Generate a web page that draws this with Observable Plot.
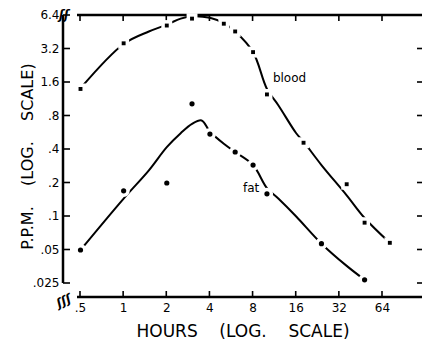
<!DOCTYPE html>
<html><head><meta charset="utf-8">
<script src="https://cdn.jsdelivr.net/npm/d3@7"></script>
<script src="https://cdn.jsdelivr.net/npm/@observablehq/plot@0.6"></script>
<style>body{margin:0;background:#fff} svg text{white-space:pre}</style>
</head><body><div id="chart"></div>
<script>
const xTicks = [0.5, 1, 2, 4, 8, 16, 32, 64];
const xTickLabels = [".5", "1", "2", "4", "8", "16", "32", "64"];
const yTicks = [0.025, 0.05, 0.1, 0.2, 0.4, 0.8, 1.6, 3.2, 6.4];
const yTickLabels = [".025", ".05", ".1", ".2", ".4", ".8", "1.6", "3.2", "6.4"];

// measured points
const bloodHours = [0.5, 1, 2, 3, 5, 6, 8, 10, 18, 36, 48, 72];
const bloodPPM   = [1.4, 3.6, 5.2, 6.0, 5.4, 4.6, 3.0, 1.25, 0.46, 0.195, 0.088, 0.058];
const fatHours = [0.5, 1, 2, 3, 4, 6, 8, 10, 24, 48];
const fatPPM   = [0.05, 0.17, 0.2, 1.03, 0.55, 0.38, 0.29, 0.16, 0.057, 0.027];

// hand-drawn curves
const bloodCurveHours = [0.5, 1, 1.5, 2, 2.5, 3, 4, 5, 6, 8, 10, 12, 16, 18, 24, 36, 48, 72];
const bloodCurvePPM   = [1.42, 3.55, 4.6, 5.3, 6.0, 6.3, 6.1, 5.45, 4.6, 3.0, 1.4, 1.0, 0.56, 0.47, 0.29, 0.155, 0.097, 0.058];
const fatCurveHours = [0.5, 1, 1.5, 2, 2.5, 3, 3.5, 4, 5, 6, 8, 10, 12, 16, 24, 36, 48];
const fatCurvePPM   = [0.05, 0.145, 0.26, 0.42, 0.56, 0.68, 0.73, 0.58, 0.45, 0.38, 0.29, 0.18, 0.145, 0.1, 0.057, 0.036, 0.027];

const seriesNames = ["blood", "fat"];
const labelHours = [11, 6.8];
const labelPPM = [1.75, 0.178];

const xTitle = "HOURS\u00a0\u00a0\u00a0 (LOG.\u00a0\u00a0\u00a0 SCALE)";
const yTitle = "P.P.M.\u00a0\u00a0\u00a0 (LOG.\u00a0\u00a0\u00a0 SCALE)";

const blood = bloodHours.map((h, i) => ({h, v: bloodPPM[i]}));
const fat = fatHours.map((h, i) => ({h, v: fatPPM[i]}));
const bloodCurve = bloodCurveHours.map((h, i) => ({h, v: bloodCurvePPM[i]}));
const fatCurve = fatCurveHours.map((h, i) => ({h, v: fatCurvePPM[i]}));
const labels = seriesNames.map((t, i) => ({t, h: labelHours[i], v: labelPPM[i]}));

function axesFrame(index, scales, values, dimensions) {
  const {width, height, marginTop, marginRight, marginBottom, marginLeft} = dimensions;
  const x = scales.x, y = scales.y;
  const top = marginTop, bottom = height - marginBottom, left = marginLeft, right = width - marginRight;
  const g = d3.create("svg:g").attr("stroke", "black").attr("fill", "none");
  const yLow = y(yTicks[0]);
  const xLow = x(xTicks[0]);
  g.append("line").attr("x1", left).attr("x2", left).attr("y1", top).attr("y2", yLow).attr("stroke-width", 2.5);
  g.append("line").attr("x1", xLow - 3).attr("x2", right).attr("y1", bottom).attr("y2", bottom).attr("stroke-width", 2.5);
  g.append("line").attr("x1", xLow - 3).attr("x2", right).attr("y1", top).attr("y2", top).attr("stroke-width", 2.5);
  for (const t of xTicks) {
    g.append("line").attr("x1", x(t)).attr("x2", x(t)).attr("y1", bottom).attr("y2", bottom - 6).attr("stroke-width", 1.6);
    g.append("line").attr("x1", x(t)).attr("x2", x(t)).attr("y1", top).attr("y2", top + 6).attr("stroke-width", 1.6);
  }
  for (const t of yTicks) {
    g.append("line").attr("x1", left).attr("x2", left + 7).attr("y1", y(t)).attr("y2", y(t)).attr("stroke-width", 1.6);
    if (t < yTicks[yTicks.length - 1])
      g.append("line").attr("x1", right - 5).attr("x2", right).attr("y1", y(t)).attr("y2", y(t)).attr("stroke-width", 1.6);
  }
  const tg = d3.create("svg:g").attr("font-weight", "bold").attr("font-style", "italic").attr("fill", "black").attr("font-size", 12);
  tg.append("text").attr("x", left + 1).attr("y", top + 4).text("ʃʃ");
  tg.append("text").attr("x", left - 2).attr("y", bottom + 5).attr("transform", `rotate(-25 ${left + 6} ${bottom - 4})`).text("ʃʃʃ");
  const root = d3.create("svg:g");
  root.append(() => g.node());
  root.append(() => tg.node());
  return root.node();
}

const chart = Plot.plot({
  width: 422,
  height: 341,
  marginTop: 15,
  marginLeft: 63,
  marginRight: 0,
  marginBottom: 44,
  style: {fontFamily: "DejaVu Sans", fontSize: "12px", background: "white", color: "black"},
  x: {type: "log", domain: [0.5, 64], range: [80, 382], axis: null},
  y: {type: "log", domain: [0.025, 6.4], range: [283, 15], axis: null},
  marks: [
    Plot.text(xTicks, {x: d => d, text: (d, i) => xTickLabels[i], frameAnchor: "bottom", lineAnchor: "top", dy: 6, fontSize: 12}),
    Plot.text(yTicks, {y: d => d, text: (d, i) => yTickLabels[i], frameAnchor: "left", textAnchor: "end", dx: -4, fontSize: 12}),
    axesFrame,
    Plot.line(bloodCurve, {x: "h", y: "v", curve: "catmull-rom", stroke: "black", strokeWidth: 2}),
    Plot.line(fatCurve, {x: "h", y: "v", curve: "catmull-rom", stroke: "black", strokeWidth: 2}),
    Plot.dot(blood, {x: "h", y: "v", symbol: "square", r: 2.2, fill: "black", stroke: "white", strokeWidth: 7, paintOrder: "stroke"}),
    Plot.dot(fat, {x: "h", y: "v", r: 2.6, fill: "black", stroke: "white", strokeWidth: 7, paintOrder: "stroke"}),
    Plot.text(labels, {x: "h", y: "v", text: "t", textAnchor: "start", fontSize: 12, stroke: "white", strokeWidth: 3, fill: "black"}),
    Plot.text([xTitle], {frameAnchor: "bottom", textAnchor: "middle", lineAnchor: "middle", dy: 34, fontSize: 17}),
    Plot.text([yTitle], {frameAnchor: "left", textAnchor: "middle", lineAnchor: "middle", dx: -36, rotate: -90, fontSize: 16})
  ]
});
document.getElementById("chart").appendChild(chart);
</script>
</body></html>
